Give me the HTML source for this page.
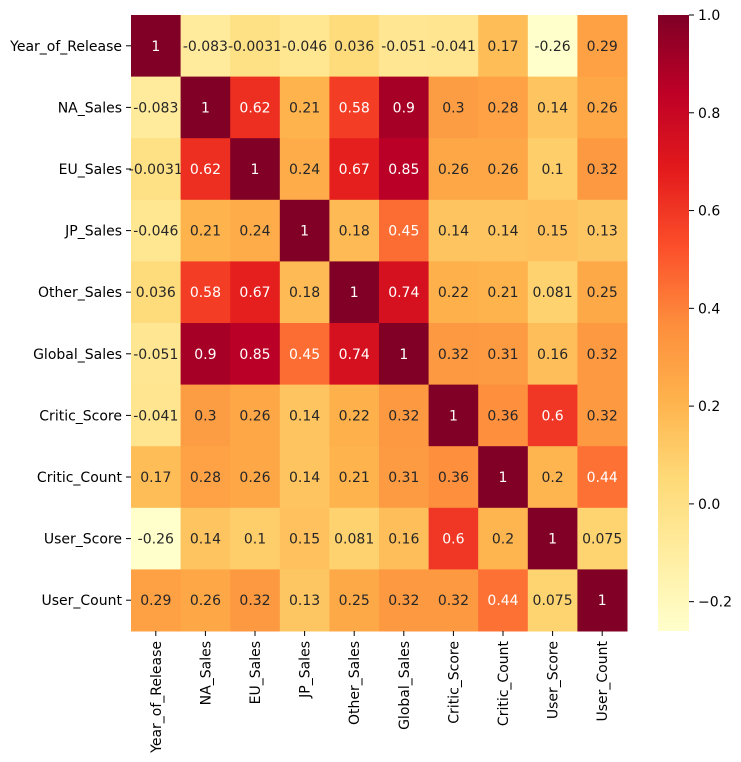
<!DOCTYPE html>
<html><head><meta charset="utf-8">
<style>
html,body{margin:0;padding:0;background:#fff;}
svg{display:block;font-family:"DejaVu Sans","Liberation Sans",sans-serif;}
</style></head>
<body>
<svg id="chart" width="741" height="762" xmlns="http://www.w3.org/2000/svg"></svg>
<script>
const labels = ["Year_of_Release","NA_Sales","EU_Sales","JP_Sales","Other_Sales","Global_Sales","Critic_Score","Critic_Count","User_Score","User_Count"];
const row0 = [1,-0.083,-0.0031,-0.046,0.036,-0.051,-0.041,0.17,-0.26,0.29];
const row1 = [-0.083,1,0.62,0.21,0.58,0.9,0.3,0.28,0.14,0.26];
const row2 = [-0.0031,0.62,1,0.24,0.67,0.85,0.26,0.26,0.1,0.32];
const row3 = [-0.046,0.21,0.24,1,0.18,0.45,0.14,0.14,0.15,0.13];
const row4 = [0.036,0.58,0.67,0.18,1,0.74,0.22,0.21,0.081,0.25];
const row5 = [-0.051,0.9,0.85,0.45,0.74,1,0.32,0.31,0.16,0.32];
const row6 = [-0.041,0.3,0.26,0.14,0.22,0.32,1,0.36,0.6,0.32];
const row7 = [0.17,0.28,0.26,0.14,0.21,0.31,0.36,1,0.2,0.44];
const row8 = [-0.26,0.14,0.1,0.15,0.081,0.16,0.6,0.2,1,0.075];
const row9 = [0.29,0.26,0.32,0.13,0.25,0.32,0.32,0.44,0.075,1];
const matrix = [row0,row1,row2,row3,row4,row5,row6,row7,row8,row9];
const cbTicks = [-0.2,0,0.2,0.4,0.6,0.8,1.0];

const NS="http://www.w3.org/2000/svg";
const svg=document.getElementById('chart');
const L=131,T=15,W=496,H=616;
const vmin=-0.26,vmax=1;
const FS='14';
const stops=["#ffffcc","#ffeda0","#fed976","#feb24c","#fd8d3c","#fc4e2a","#e31a1c","#bd0026","#800026"];
function hex(c){return [1,3,5].map(i=>parseInt(c.substr(i,2),16));}
function cmapRGB(v){let t=(v-vmin)/(vmax-vmin);t=Math.max(0,Math.min(1,t));const p=t*(stops.length-1);const i=Math.min(stops.length-2,Math.floor(p));const f=p-i;const a=hex(stops[i]),b=hex(stops[i+1]);return a.map((x,k)=>Math.round(x+(b[k]-x)*f));}
function cmap(v){const c=cmapRGB(v);return `rgb(${c[0]},${c[1]},${c[2]})`;}
function lum(c){const s=c.map(x=>{x/=255;return x<=0.03928?x/12.92:Math.pow((x+0.055)/1.055,2.4)});return 0.2126*s[0]+0.7152*s[1]+0.0722*s[2];}
const n=labels.length,cw=W/n,ch=H/n;
function xPos(j){return L+j*cw;}
function yPos(i){return T+i*ch;}
function el(tag,attrs){const e=document.createElementNS(NS,tag);for(const k in attrs)e.setAttribute(k,attrs[k]);svg.appendChild(e);return e;}
function fmt(v){return String(v);}
for(let i=0;i<n;i++){for(let j=0;j<n;j++){
  const v=matrix[i][j];
  const r=el('rect',{x:xPos(j),y:yPos(i),width:cw+0.5,height:ch+0.5,fill:cmap(v)});
  
  
  const t=el('text',{x:xPos(j)+cw/2,y:yPos(i)+ch/2+5,'text-anchor':'middle','font-size':FS,fill:lum(cmapRGB(v))>0.408?'#262626':'#ffffff'});
  t.textContent=fmt(v);
  
  
}}
for(let i=0;i<n;i++){
  const y=yPos(i)+ch/2;
  el('line',{x1:L-5,x2:L,y1:y,y2:y,stroke:'#000','stroke-width':1});
  const t=el('text',{x:L-9,y:y+5,'text-anchor':'end','font-size':FS,fill:'#000'});
  t.textContent=labels[i];
  
  
}
for(let j=0;j<n;j++){
  const x=xPos(j)+cw/2;
  el('line',{x1:x,x2:x,y1:T+H,y2:T+H+5,stroke:'#000','stroke-width':1});
  const t=el('text',{x:x+5,y:T+H+10,'text-anchor':'end','font-size':FS,fill:'#000',transform:`rotate(-90 ${x+5} ${T+H+10})`});
  t.textContent=labels[j];
  
  
}
// colorbar
const CX=658,CW=31;
const defs=el('defs',{});
const g=document.createElementNS(NS,'linearGradient');g.setAttribute('id','cb');g.setAttribute('x1','0');g.setAttribute('y1','1');g.setAttribute('x2','0');g.setAttribute('y2','0');defs.appendChild(g);
for(let k=0;k<=40;k++){const v=vmin+(vmax-vmin)*k/40;const s=document.createElementNS(NS,'stop');s.setAttribute('offset',k/40);s.setAttribute('stop-color',cmap(v));g.appendChild(s);}
const cb=el('rect',{x:CX,y:T,width:CW,height:H,fill:'url(#cb)'});


function cbY(v){return T+H*(vmax-v)/(vmax-vmin);}
for(const v of cbTicks){
  const y=cbY(v);
  el('line',{x1:CX+CW,x2:CX+CW+5,y1:y,y2:y,stroke:'#000','stroke-width':1});
  const t=el('text',{x:CX+CW+9,y:y+5,'font-size':FS,fill:'#000'});
  t.textContent=(v<0?'\u2212':'')+Math.abs(v).toFixed(1);
  
  
}
</script>
</body></html>
